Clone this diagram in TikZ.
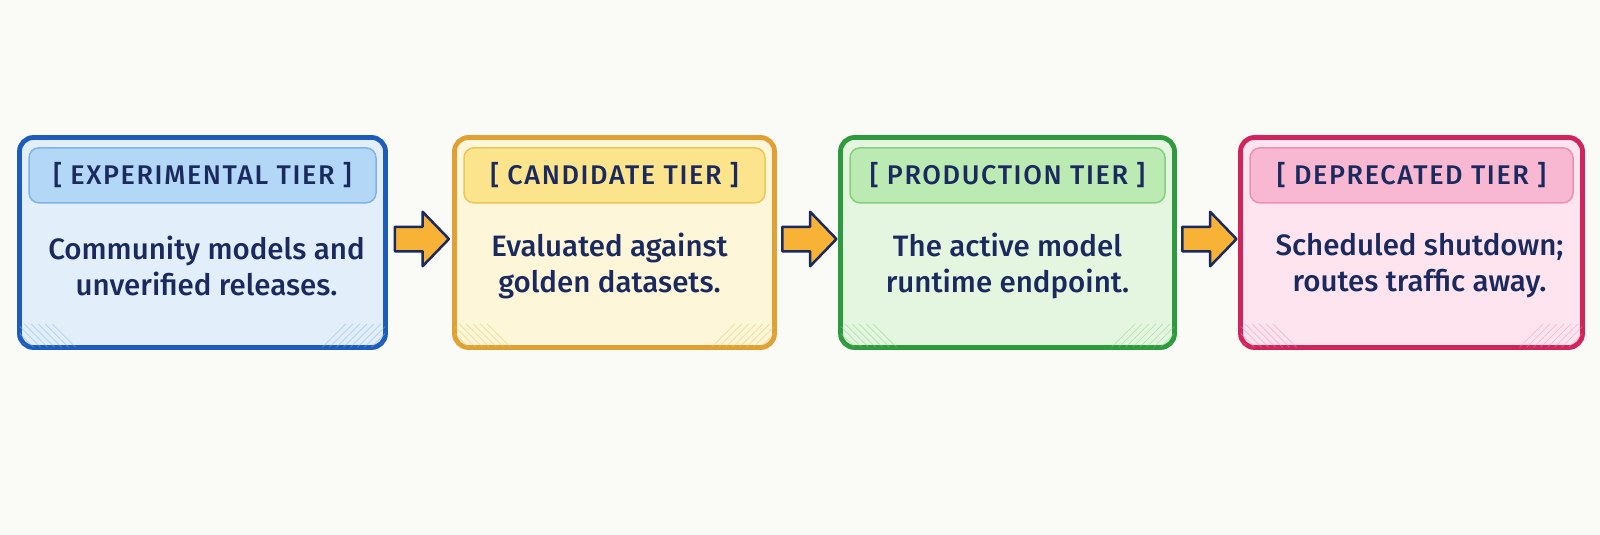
\documentclass[tikz,border=0pt]{standalone}
\usepackage{fontspec}
\setmainfont{Fira Sans Medium}
\newfontfamily\hdrfont{Fira Sans Medium}[LetterSpace=6]
\usetikzlibrary{shapes.arrows,calc}
\definecolor{bg}{HTML}{FAFAF7}
\definecolor{ink}{HTML}{1B2A5E}
\definecolor{arrowfill}{HTML}{F8B236}
\definecolor{blueB}{HTML}{1D5CBC}\definecolor{blueF}{HTML}{E2EFFB}\definecolor{blueH}{HTML}{B3D7F6}\definecolor{blueL}{HTML}{7FB3E8}
\definecolor{yelB}{HTML}{E0A034}\definecolor{yelF}{HTML}{FDF6D8}\definecolor{yelH}{HTML}{FBE48C}\definecolor{yelL}{HTML}{EBC75A}
\definecolor{grnB}{HTML}{2E9A3E}\definecolor{grnF}{HTML}{E4F6E0}\definecolor{grnH}{HTML}{BCEAB3}\definecolor{grnL}{HTML}{86CF7E}
\definecolor{pnkB}{HTML}{D2245C}\definecolor{pnkF}{HTML}{FDE4EF}\definecolor{pnkH}{HTML}{F8B8D2}\definecolor{pnkL}{HTML}{EE8FB4}
\begin{document}
\begin{tikzpicture}[x=1pt,y=-1pt,
  tierbox/.style={draw, line width=4.8pt, rounded corners=14pt, minimum height=210pt, inner sep=0pt},
  hdr/.style={draw, line width=1.5pt, rounded corners=10pt, minimum height=55pt, inner sep=0pt,
    font=\hdrfont\fontsize{27}{30}\selectfont, text=ink},
  bodytext/.style={font=\fontsize{29.5}{36}\selectfont, text=ink, align=center, inner sep=0pt},
  flow/.style={single arrow, draw=ink, fill=arrowfill, line width=2.5pt, line join=round,
    single arrow head extend=15pt, inner xsep=0pt, inner ysep=11pt,
    minimum height=54pt, minimum width=53pt, single arrow tip angle=92}]
\fill[bg] (0,0) rectangle (1600,535);
\useasboundingbox (0,0) rectangle (1600,535);

% boxes
\node[tierbox, draw=blueB, fill=blueF, minimum width=366pt] (b1) at (202.5,242.5) {};
\node[tierbox, draw=yelB, fill=yelF, minimum width=320pt] (b2) at (614.5,242.5) {};
\node[tierbox, draw=grnB, fill=grnF, minimum width=334pt] (b3) at (1007.5,242.5) {};
\node[tierbox, draw=pnkB, fill=pnkF, minimum width=342pt] (b4) at (1411.5,242.5) {};

% sketchy hatching in bottom corners
\foreach \bx/\col in {b1/blueL, b2/yelL, b3/grnL, b4/pnkL}{
  \begin{scope}
    \clip[rounded corners=12pt] ([xshift=2.5pt,yshift=2.5pt]\bx.south west) rectangle ([xshift=-2.5pt,yshift=-2.5pt]\bx.north east);
    \foreach \i in {0,7,...,63}{
      \draw[\col, line width=0.8pt, opacity=0.45]
        ([xshift=\i pt, yshift=-2pt]\bx.south west) -- ++(-28,-28);
    }
    \foreach \i in {0,7,...,70}{
      \draw[\col, line width=0.8pt, opacity=0.45]
        ([xshift=-\i pt, yshift=-2pt]\bx.south east) -- ++(28,-28);
    }
  \end{scope}
}

% headers
\node[hdr, draw=blueL, fill=blueH, minimum width=347pt, anchor=north] (h1) at ([yshift=-12pt]b1.north) {[ EXPERIMENTAL TIER ]};
\node[hdr, draw=yelL, fill=yelH, minimum width=301pt, anchor=north] (h2) at ([yshift=-12pt]b2.north) {[ CANDIDATE TIER ]};
\node[hdr, draw=grnL, fill=grnH, minimum width=315pt, anchor=north] (h3) at ([yshift=-12pt]b3.north) {[ PRODUCTION TIER ]};
\node[hdr, draw=pnkL, fill=pnkH, minimum width=323pt, anchor=north] (h4) at ([yshift=-12pt]b4.north) {[ DEPRECATED TIER ]};

% body texts
\node[bodytext] (t1) at ([xshift=4pt,yshift=-23pt]b1.center) {Community models and\\unverified releases.};
\node[bodytext] (t2) at ([xshift=-5pt,yshift=-23pt]b2.center) {Evaluated against\\golden datasets.};
\node[bodytext] (t3) at ([xshift=0pt,yshift=-23pt]b3.center) {The active model\\runtime endpoint.};
\node[bodytext] (t4) at ([xshift=8pt,yshift=-23pt]b4.center) {Scheduled shutdown;\\routes traffic away.};

% arrows between tiers
\node[flow] (a1) at ($(b1.east)!0.5!(b2.west)+(-4,-3.5)$) {};
\node[flow] (a2) at ($(b2.east)!0.5!(b3.west)+(-4,-3.5)$) {};
\node[flow] (a3) at ($(b3.east)!0.5!(b4.west)+(-4,-3.5)$) {};
\end{tikzpicture}
\end{document}
